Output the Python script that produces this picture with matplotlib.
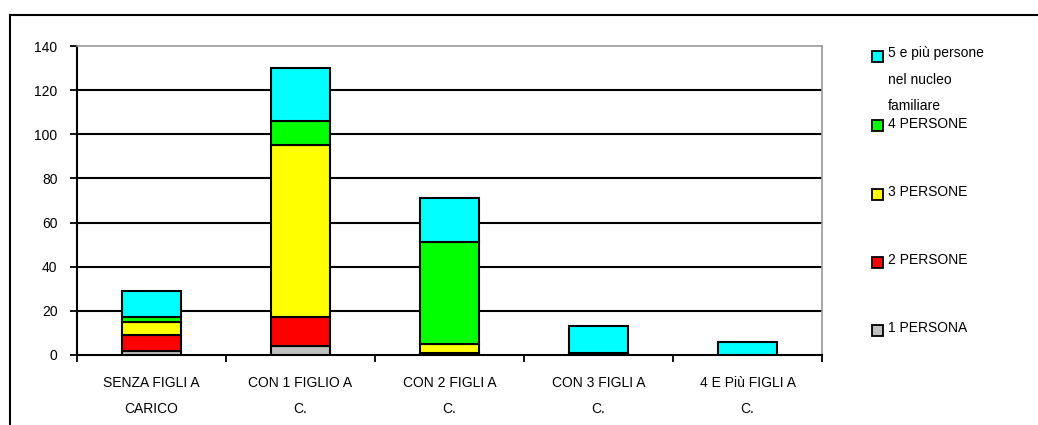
import matplotlib
matplotlib.use("Agg")
import matplotlib.pyplot as plt
from matplotlib.patches import Rectangle
from matplotlib.lines import Line2D
import numpy as np

plt.rcParams['font.family'] = ['Liberation Sans', 'DejaVu Sans']

# Household composition by number of dependent children
categories = ["SENZA FIGLI A\nCARICO", "CON 1 FIGLIO A\nC.", "CON 2 FIGLI A\nC.",
              "CON 3 FIGLI A\nC.", "4 E Più FIGLI A\nC."]
series_names = ["1 PERSONA", "2 PERSONE", "3 PERSONE", "4 PERSONE",
                "5 e più persone\nnel nucleo\nfamiliare"]
una_persona = [2, 4, 1, 0, 0]
due_persone = [7, 13, 0, 0, 0]
tre_persone = [6, 78, 4, 0, 0]
quattro_persone = [2, 11, 46, 1, 0]
cinque_e_piu = [12, 24, 20, 12, 6]
series_values = [una_persona, due_persone, tre_persone, quattro_persone, cinque_e_piu]
series_colors = ["#C0C0C0", "#FF0000", "#FFFF00", "#00FF00", "#00FFFF"]
y_ticks = [0, 20, 40, 60, 80, 100, 120, 140]

FS = 10
W, H = 1038, 425
fig = plt.figure(figsize=(W / 100, H / 100), dpi=100)
ax = fig.add_axes([77 / W, 1 - 355 / H, (822 - 77) / W, (355 - 46) / H])

x = np.arange(len(categories))
bottom = np.zeros(len(categories))
for vals, col in zip(series_values, series_colors):
    vals = np.array(vals, dtype=float)
    ax.bar(x, vals, width=0.4, bottom=bottom, color=col, edgecolor="black",
           linewidth=1.5, zorder=3)
    bottom += vals

ax.set_xlim(-0.5, len(categories) - 0.5)
ax.set_ylim(0, 140)
ax.set_yticks(y_ticks)
ax.set_yticklabels([str(v) for v in y_ticks], fontsize=FS)
for v in y_ticks[1:-1]:
    ax.axhline(v, color="black", linewidth=1.5, zorder=1)

ax.set_xticks(x)
ax.set_xticklabels(categories, fontsize=FS, linespacing=2.15)
ax.set_xticks(np.arange(len(categories) + 1) - 0.5, minor=True)
ax.tick_params(axis="x", which="major", length=0, pad=15)
ax.tick_params(axis="x", which="minor", length=5, width=1.3, direction="out")
ax.tick_params(axis="y", length=5, width=1.3, direction="out", pad=9)

for side in ("left", "bottom"):
    ax.spines[side].set_color("black")
    ax.spines[side].set_linewidth(1.5)
for side in ("top", "right"):
    ax.spines[side].set_color("#999999")
    ax.spines[side].set_linewidth(1.2)

# outer frame (top and left edges)
fig.add_artist(Line2D([10 / W, 1.0], [1 - 15 / H, 1 - 15 / H], color="black",
                      linewidth=1.5, transform=fig.transFigure))
fig.add_artist(Line2D([10 / W, 10 / W], [0.0, 1 - 15 / H], color="black",
                      linewidth=1.5, transform=fig.transFigure))

# legend, drawn from the top series down
legend_rows = [56, 126, 194, 262, 330]
for name, col, ypix in zip(series_names[::-1], series_colors[::-1], legend_rows):
    fig.add_artist(Rectangle((872 / W, 1 - (ypix + 5.5) / H), 11 / W, 11 / H,
                             facecolor=col, edgecolor="black", linewidth=1.3,
                             transform=fig.transFigure))
    if "\n" in name:
        fig.text(888 / W, 1 - 46 / H, name, fontsize=FS, va="top", ha="left",
                 linespacing=2.15)
    else:
        fig.text(888 / W, 1 - (ypix - 2) / H, name, fontsize=FS, va="center",
                 ha="left")

fig.savefig("out.png", dpi=100)
